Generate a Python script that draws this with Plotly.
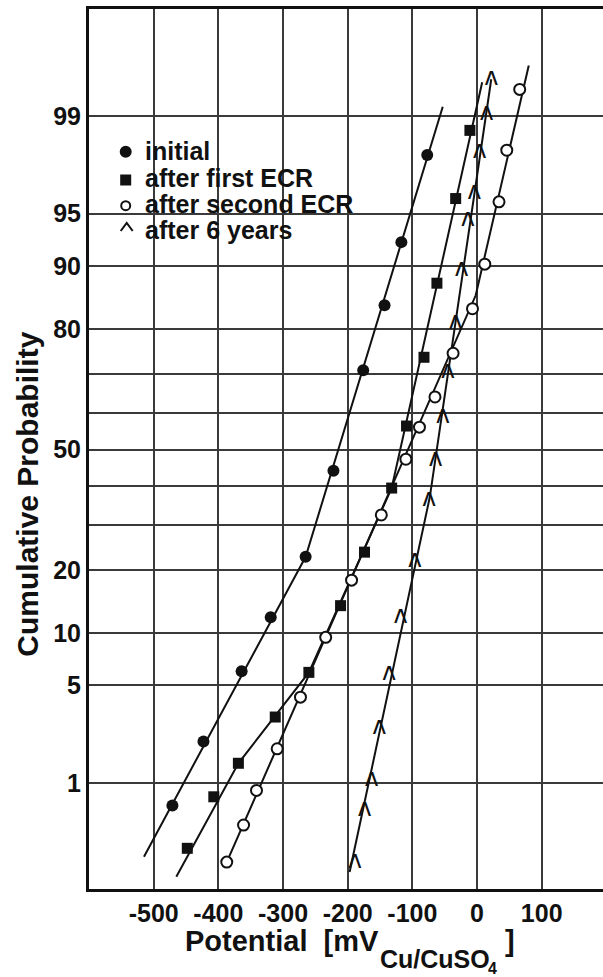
import plotly.graph_objects as go
from statistics import NormalDist

_nd = NormalDist()


def zscore(values):
    return [_nd.inv_cdf(v / 100.0) for v in values]


# ---------------- data (potential in mV, cumulative probability in %) ----------------
series_names = ["initial", "after first ECR", "after second ECR", "after 6 years"]

initial_mv = [-77, -117, -143, -176, -222, -265, -319, -364, -423, -471]
initial_p = [98.0, 92.6, 84.3, 71.0, 44.1, 22.7, 12.1, 6.1, 2.08, 0.65]
initial_fit_mv = [-53, -265, -515]
initial_fit_p = [99.16, 22.7, 0.225]

ecr1_mv = [-11, -33, -62, -82, -109, -132, -174, -211, -260, -312, -369, -407, -448]
ecr1_p = [98.7, 96.0, 87.7, 74.0, 56.5, 39.4, 23.7, 13.8, 6.0, 3.1, 1.43, 0.77, 0.27]
ecr1_fit_mv = [8, -132, -260, -369, -465]
ecr1_fit_p = [99.48, 39.4, 6.0, 1.43, 0.144]

ecr2_mv = [66, 46, 34, 12, -7, -37, -65, -89, -110, -148, -194, -234, -273, -309, -341, -361, -387]
ecr2_p = [99.40, 98.16, 95.8, 90.2, 83.7, 74.9, 64.3, 56.2, 47.3, 32.4, 18.1, 9.5, 4.2, 1.84, 0.87, 0.44, 0.20]
ecr2_fit_mv = [80, -2, -387]
ecr2_fit_p = [99.63, 85.9, 0.20]

yr6_mv = [22, 15, 4, -4, -14, -24, -33, -45, -53, -64, -74, -96, -118, -136, -151, -163, -174, -189]
yr6_p = [99.51, 99.04, 98.10, 96.3, 94.5, 89.5, 81.1, 70.6, 59.0, 47.1, 36.3, 21.8, 12.1, 5.9, 2.6, 1.05, 0.60, 0.20]
yr6_fit_mv = [22, -73, -197]
yr6_fit_p = [99.51, 37.0, 0.16]

x_tick_vals = [-500, -400, -300, -200, -100, 0, 100]
x_tick_text = ["-500", "-400", "-300", "-200", "-100", "0", "100"]
y_grid_p = [1, 5, 10, 20, 30, 40, 50, 60, 70, 80, 90, 95, 99]
y_tick_text = ["1", "5", "10", "20", "", "", "50", "", "", "80", "90", "95", "99"]

# ---------------- styling ----------------
FONT = "Liberation Sans, Arial, Helvetica, sans-serif"
BLACK = "#111111"
LINE = dict(color=BLACK, width=2)

fig = go.Figure()

# fitted lines
for mv, p in [(initial_fit_mv, initial_fit_p), (ecr1_fit_mv, ecr1_fit_p),
              (ecr2_fit_mv, ecr2_fit_p), (yr6_fit_mv, yr6_fit_p)]:
    fig.add_trace(go.Scatter(x=mv, y=zscore(p), mode="lines", line=LINE,
                             showlegend=False, hoverinfo="skip"))

# markers
fig.add_trace(go.Scatter(x=initial_mv, y=zscore(initial_p), mode="markers", name=series_names[0],
                         marker=dict(symbol="circle", size=12, color=BLACK, line=dict(width=0)),
                         showlegend=False))
fig.add_trace(go.Scatter(x=ecr1_mv, y=zscore(ecr1_p), mode="markers", name=series_names[1],
                         marker=dict(symbol="square", size=11, color=BLACK, line=dict(width=0)),
                         showlegend=False))
fig.add_trace(go.Scatter(x=ecr2_mv, y=zscore(ecr2_p), mode="markers", name=series_names[2],
                         marker=dict(symbol="circle", size=11, color="white",
                                     line=dict(color=BLACK, width=2)),
                         showlegend=False))
fig.add_trace(go.Scatter(x=yr6_mv, y=zscore(yr6_p), mode="text", name=series_names[3],
                         text=["\u028c"] * len(yr6_mv), textposition="middle center",
                         textfont=dict(family="DejaVu Sans", size=24, color=BLACK),
                         showlegend=False))

# ---------------- layout ----------------
L, R, T, B = 89, 0, 9, 88
W, H = 603, 977
pw, ph = W - L - R, H - T - B


def px(xp):
    return (xp - L) / pw


def py(yp):
    return (H - B - yp) / ph


annotations = []
# legend text
legend_y = [151.3, 177.5, 203.8, 230.3]
for name, yy in zip(series_names, legend_y):
    annotations.append(dict(text=name, x=px(143), y=py(yy), xref="paper", yref="paper",
                            xanchor="left", yanchor="middle", showarrow=False,
                            font=dict(family=FONT, size=25, color=BLACK, weight="bold")))

# axis titles
annotations.append(dict(text="Cumulative Probability", textangle=-90, x=px(26.7), y=py(494),
                        xref="paper", yref="paper", xanchor="center", yanchor="middle",
                        showarrow=False, font=dict(family=FONT, size=30, color=BLACK, weight="bold")))
for txt, xx, yy, fs in [("Potential  [mV", 183, 941, 29), ("Cu/CuSO", 378, 959.3, 25),
                        ("4", 486, 968.5, 16), ("]", 503, 941, 29)]:
    annotations.append(dict(text=txt, x=px(xx), y=py(yy), xref="paper", yref="paper",
                            xanchor="left", yanchor="middle", showarrow=False,
                            font=dict(family=FONT, size=fs, color=BLACK, weight="bold")))

shapes = []
# white legend box covering the grid
shapes.append(dict(type="rect", xref="paper", yref="paper", x0=px(103), x1=px(380),
                   y0=py(250), y1=py(136), fillcolor="white", line=dict(width=0), layer="between"))
# legend symbols
cx = px(125.7)
shapes.append(dict(type="circle", xref="paper", yref="paper", xsizemode="pixel", ysizemode="pixel",
                   xanchor=cx, yanchor=py(151.7), x0=-6, x1=6, y0=-6, y1=6,
                   fillcolor=BLACK, line=dict(width=0)))
shapes.append(dict(type="rect", xref="paper", yref="paper", xsizemode="pixel", ysizemode="pixel",
                   xanchor=cx, yanchor=py(180), x0=-5.5, x1=5.5, y0=-5.5, y1=5.5,
                   fillcolor=BLACK, line=dict(width=0)))
shapes.append(dict(type="circle", xref="paper", yref="paper", xsizemode="pixel", ysizemode="pixel",
                   xanchor=cx, yanchor=py(205.7), x0=-4.5, x1=4.5, y0=-4.5, y1=4.5,
                   fillcolor="white", line=dict(color=BLACK, width=2)))
shapes.append(dict(type="path", xref="paper", yref="paper", xsizemode="pixel", ysizemode="pixel",
                   xanchor=cx + 1 / pw, yanchor=py(227), path="M-6,-4 L0,4 L6,-4",
                   line=dict(color=BLACK, width=2)))

fig.update_layout(
    width=W, height=H, autosize=False,
    margin=dict(l=L, r=R, t=T, b=B, pad=0),
    paper_bgcolor="white", plot_bgcolor="white",
    showlegend=False,
    font=dict(family=FONT, color=BLACK),
    annotations=annotations,
    shapes=shapes,
    xaxis=dict(range=[-600, -600 + pw / 0.6467], tickvals=x_tick_vals, ticktext=x_tick_text,
               showgrid=True, gridcolor="#3a3a3a", gridwidth=2, zeroline=False,
               showline=True, linecolor=BLACK, linewidth=3, mirror=True, ticks="",
               tickfont=dict(family=FONT, size=25, color=BLACK, weight="bold")),
    yaxis=dict(range=[-3.066, 3.073], tickvals=zscore(y_grid_p), ticktext=y_tick_text,
               showgrid=True, gridcolor="#3a3a3a", gridwidth=2, zeroline=False,
               showline=True, linecolor=BLACK, linewidth=3, mirror=False, ticks="",
               tickfont=dict(family=FONT, size=25, color=BLACK, weight="bold")),
)

fig.write_html("out.html", config={"displayModeBar": False})
